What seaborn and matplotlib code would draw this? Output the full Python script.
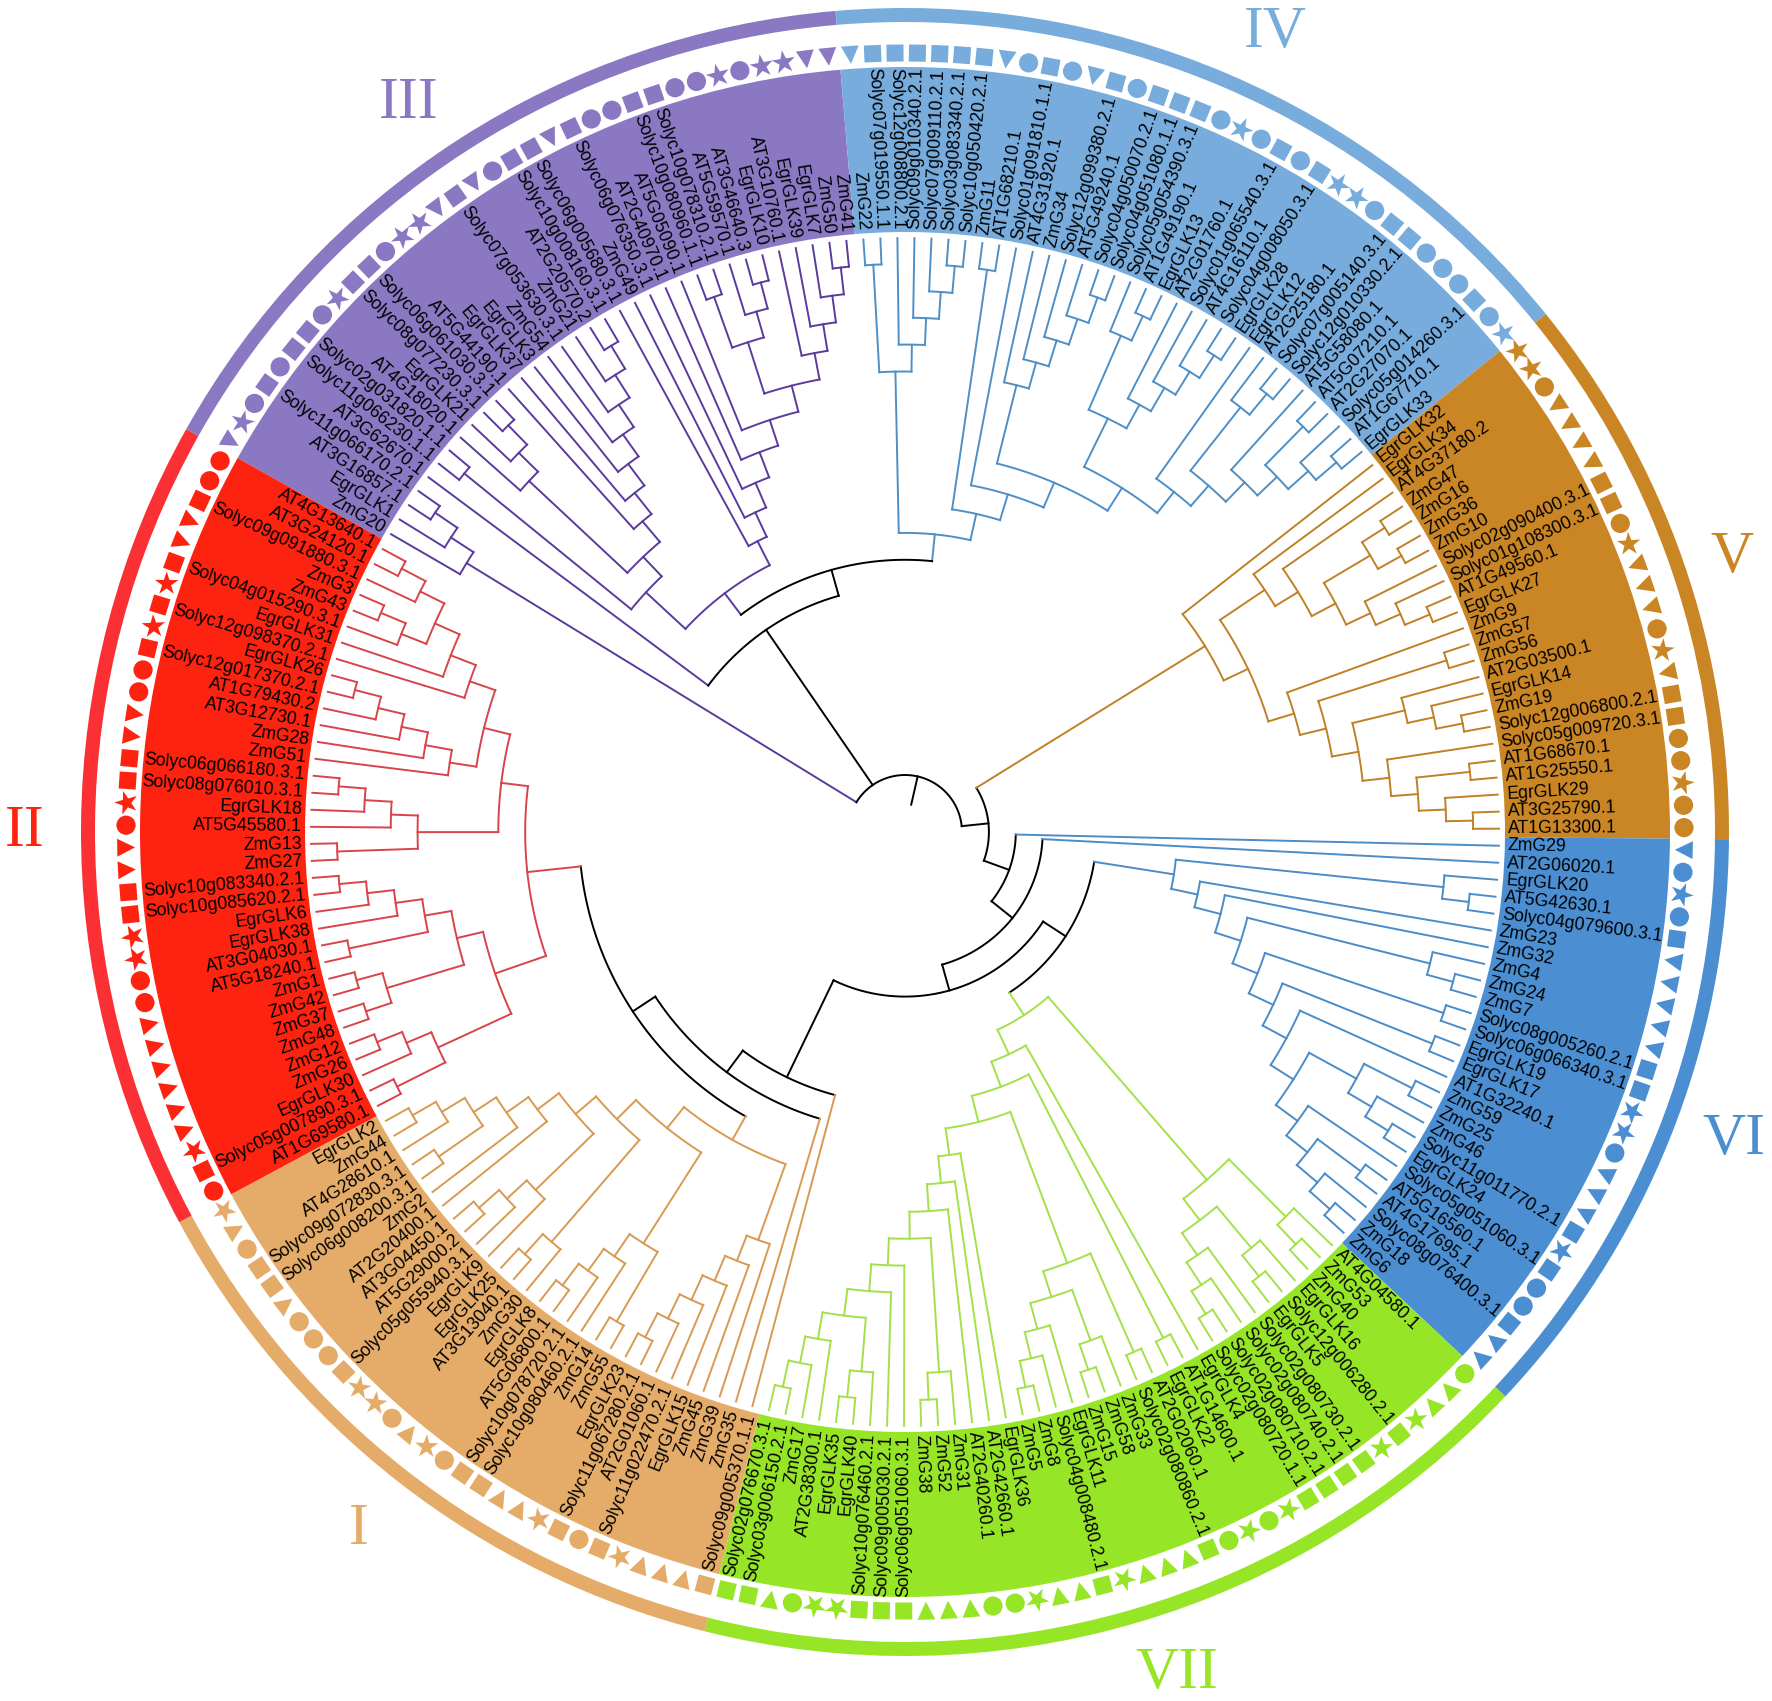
import numpy as np
import pandas as pd
import matplotlib
matplotlib.use("Agg")
import matplotlib.pyplot as plt
from matplotlib.markers import MarkerStyle
from matplotlib.transforms import Affine2D
import seaborn as sns

sns.set_theme(style="white")
plt.rcParams['font.family'] = ['Liberation Sans', 'DejaVu Sans']

# leaf names per clade, clockwise
leaves_vi = ["ZmG29", "AT2G06020.1", "EgrGLK20", "AT5G42630.1", "Solyc04g079600.3.1", "ZmG23", "ZmG32", "ZmG4", "ZmG24", "ZmG7",
             "Solyc08g005260.2.1", "Solyc06g066340.3.1", "EgrGLK19", "EgrGLK17", "AT1G32240.1", "ZmG59", "ZmG25", "ZmG46",
             "Solyc11g011770.2.1", "EgrGLK24", "Solyc05g051060.3.1", "AT5G16560.1", "AT4G17695.1", "Solyc08g076400.3.1", "ZmG18", "ZmG6"]
leaves_vii = ["AT4G04580.1", "ZmG53", "ZmG40", "EgrGLK16", "Solyc12g006280.2.1", "EgrGLK5", "Solyc02g080730.2.1", "Solyc02g080740.2.1",
              "Solyc02g080710.2.1", "Solyc02g080720.1.1", "EgrGLK4", "AT1G14600.1", "EgrGLK22", "AT2G02060.1", "Solyc02g080860.2.1",
              "ZmG33", "ZmG58", "ZmG15", "EgrGLK11", "Solyc04g008480.2.1", "ZmG8", "ZmG5", "EgrGLK36", "AT2G42660.1", "AT2G40260.1",
              "ZmG31", "ZmG52", "ZmG38", "Solyc06g051060.3.1", "Solyc09g005030.2.1", "Solyc10g076460.2.1", "EgrGLK40", "EgrGLK35",
              "AT2G38300.1", "ZmG17", "Solyc03g006150.2.1", "Solyc02g076670.3.1"]
leaves_i = ["Solyc09g005370.1.1", "ZmG35", "ZmG39", "ZmG45", "EgrGLK15", "Solyc11g022470.2.1", "AT2G01060.1", "Solyc11g067280.2.1",
            "EgrGLK23", "ZmG55", "ZmG14", "Solyc10g080460.2.1", "Solyc10g078720.2.1", "AT5G06800.1", "EgrGLK8", "ZmG30", "AT3G13040.1",
            "EgrGLK25", "EgrGLK9", "Solyc05g055940.3.1", "AT5G29000.2", "AT3G04450.1", "AT2G20400.1", "ZmG2", "Solyc06g008200.3.1",
            "Solyc09g072830.3.1", "AT4G28610.1", "ZmG44", "EgrGLK2"]
leaves_ii = ["AT1G69580.1", "Solyc05g007890.3.1", "EgrGLK30", "ZmG26", "ZmG12", "ZmG48", "ZmG37", "ZmG42", "ZmG1", "AT5G18240.1",
             "AT3G04030.1", "EgrGLK38", "EgrGLK6", "Solyc10g085620.2.1", "Solyc10g083340.2.1", "ZmG27", "ZmG13", "AT5G45580.1",
             "EgrGLK18", "Solyc08g076010.3.1", "Solyc06g066180.3.1", "ZmG51", "ZmG28", "AT3G12730.1", "AT1G79430.2",
             "Solyc12g017370.2.1", "EgrGLK26", "Solyc12g098370.2.1", "EgrGLK31", "Solyc04g015290.3.1", "ZmG43", "ZmG3",
             "Solyc09g091880.3.1", "AT3G24120.1", "AT4G13640.1"]
leaves_iii = ["ZmG20", "EgrGLK1", "AT3G16857.1", "Solyc11g066170.2.1", "AT3G62670.1", "Solyc11g066230.1.1", "Solyc02g031820.1.1",
              "AT4G18020.1", "EgrGLK21", "Solyc08g077230.3.1", "Solyc06g061030.3.1", "AT5G44190.1", "EgrGLK37", "EgrGLK3", "ZmG54",
              "Solyc07g053630.3.1", "ZmG21", "AT2G20570.2", "Solyc10g008160.3.1", "Solyc06g005680.3.1", "ZmG49", "Solyc06g076350.3.1",
              "AT2G40970.1", "AT5G05090.1", "Solyc10g080960.1.1", "Solyc10g078310.2.1", "AT5G59570.1", "AT3G46640.3", "EgrGLK10",
              "AT3G10760.1", "EgrGLK39", "EgrGLK7", "ZmG50", "ZmG41"]
leaves_iv = ["ZmG22", "Solyc07g019550.1.1", "Solyc12g008800.2.1", "Solyc09g010340.2.1", "Solyc07g009110.2.1", "Solyc03g083340.2.1",
             "Solyc10g050420.2.1", "ZmG11", "AT1G68210.1", "Solyc01g091810.1.1", "AT4G31920.1", "ZmG34", "Solyc12g099380.2.1",
             "AT5G49240.1", "Solyc04g050070.2.1", "Solyc04g051080.1.1", "Solyc05g054390.3.1", "AT1G49190.1", "EgrGLK13", "AT2G01760.1",
             "Solyc01g065540.3.1", "AT4G16110.1", "Solyc04g008050.3.1", "EgrGLK28", "EgrGLK12", "AT2G25180.1", "Solyc07g005140.3.1",
             "Solyc12g010330.2.1", "AT5G58080.1", "AT5G07210.1", "AT2G27070.1", "Solyc05g014260.3.1", "AT1G67710.1", "EgrGLK33"]
leaves_v = ["EgrGLK32", "EgrGLK34", "AT4G37180.2", "ZmG47", "ZmG16", "ZmG36", "ZmG10", "Solyc02g090400.3.1", "Solyc01g108300.3.1",
            "AT1G49560.1", "EgrGLK27", "ZmG9", "ZmG57", "ZmG56", "AT2G03500.1", "EgrGLK14", "ZmG19", "Solyc12g006800.2.1",
            "Solyc05g009720.3.1", "AT1G68670.1", "AT1G25550.1", "EgrGLK29", "AT3G25790.1", "AT1G13300.1"]

# ring symbols per clade: t triangle, o circle, s square, * star
marks_vi = "to*ostttttss**ottts*soostt"
marks_vii = "ott*s*ssss" "*o*osttt*s" "tt*ootttss" "s**otss"
marks_i = "sttt*sos*t" "tsso*to**s" "oootssot*"
marks_ii = "os*ttttttoo**sstto*ssttoos*s*sttsoo"
marks_iii = "t*ososso*s" "so**tstoss" "tsoossoo*o" "**tt"
marks_iv = "tssssss" "tosots" "osss" "o*oso" "s**" "oss" "ooo" "so*"
marks_v = "**otttt" "sso*" "ttto*tssoo*oo"

# cladogram topology, leaves numbered inside their clade
iii_base = (0, (1, (2, 3)))
iii_chain = (11, (12, (13, (14, (15, (16, (17, 18)))))))
iii_low = ((5, 6), ((7, (8, (9, 10))), iii_chain))
iii_k = (((24, 25), (26, (27, 28))), (29, (30, (31, (32, 33)))))
iii_high = (19, (20, (21, (22, (23, iii_k)))))
tree_iii_top = (iii_low, iii_high)

iv_a = ((0, 1), (2, (3, (4, (5, 6)))))
iv_b = (10, (11, (12, (13, (14, 15)))))
iv_c = ((16, (17, 18)), (19, (20, (21, (22, 23)))))
iv_d = (24, ((25, (26, 27)), (28, ((29, 30), (31, (32, 33))))))
tree_iv = (iv_a, ((7, 8), (9, (iv_b, (iv_c, iv_d)))))

v_a = (1, (2, (((3, 4), (5, 6)), (7, (8, (9, 10))))))
v_b = (11, ((12, 13), ((14, (15, (16, 17))), (18, ((19, 20), (21, (22, 23)))))))
tree_v = (0, (v_a, v_b))

vi_a = ((15, 16), (17, (18, 19)))
vi_b = (20, ((21, 22), (23, (24, 25))))
tree_vi = ((2, (3, 4)), (5, (6, ((7, (8, 9)), ((10, 11), ((12, 13), (14, (vi_a, vi_b))))))))

vii_a = ((0, (1, 2)), ((3, (4, 5)), (6, (7, (8, 9)))))
vii_b = ((13, 14), ((15, (16, 17)), (18, (19, (20, 21)))))
vii_c = ((25, (26, 27)), (28, (29, ((30, (31, 32)), (33, (34, (35, 36)))))))
tree_vii = (vii_a, (10, ((11, 12), (vii_b, (22, (23, (24, vii_c)))))))

i_j1 = (2, (3, (4, (5, (6, (7, 8))))))
i_j2 = ((9, 10), (11, (12, (13, 14))))
i_j3 = (15, (16, 17))
i_j4 = (18, (19, (20, 21)))
i_j5 = (22, (23, ((24, 25), (26, (27, 28)))))
tree_i_rest = (i_j1, (i_j2, (i_j3, (i_j4, i_j5))))

ii_low = (((0, 1), (2, (3, 4))), (((5, 6), (7, 8)), ((9, 10), (11, (12, (13, 14))))))
ii_d = ((15, 16), (17, (18, (19, 20))))
ii_e = (21, (22, (23, (24, (25, 26)))))
ii_f = (27, (28, ((29, (30, 31)), (32, (33, 34)))))
tree_ii = (ii_low, (ii_d, (ii_e, ii_f)))

# the backbone joining the clades, clockwise from the base of III
tree = (iii_base,
        (4, (tree_iii_top, tree_iv)),
        (tree_v, (0, (1, ((tree_vi, tree_vii), (0, (1, (tree_i_rest, tree_ii))))))))

clades = ["III", "IV", "V", "VI", "VII", "I", "II"]
clade_leaves = [leaves_iii, leaves_iv, leaves_v, leaves_vi, leaves_vii, leaves_i, leaves_ii]
clade_marks = [marks_iii, marks_iv, marks_v, marks_vi, marks_vii, marks_i, marks_ii]

band_colors = {"I": "#E5AC69", "II": "#FE2210", "III": "#8B78C3", "IV": "#77ACDD", "V": "#CA8525", "VI": "#4B8FD2", "VII": "#97E527"}
ring_colors = dict(band_colors, II="#FB3035")
branch_colors = {"I": "#D89A50", "II": "#D9434A", "III": "#5B3A9E", "IV": "#4E8FC6", "V": "#C08026", "VI": "#4A8CC8",
                 "VII": "#A4E04A", "backbone": "#000000"}

# radii in pixels, the axes are scaled 1:1
R_LEAF = 594
R_TOP = 595
R_STEP = 26.9
R_BAND = (600, 765)
R_MARK = 779
R_RING = (810, 824)
R_TEXT = 603
R_MAX = 830
CX, CY = 905, 832
W, H = 1772, 1701

names = [n for group in clade_leaves for n in group]
leaf_clade = [c for c, group in zip(clades, clade_leaves) for _ in group]
marks = "".join(clade_marks)
step = 360 / len(names)
first = len(leaves_vi) + len(leaves_vii) + len(leaves_i) + len(leaves_ii)
leaf_deg = -(np.arange(len(names)) + first + 0.5) * step - 0.5


def radius(h):
    return R_LEAF if h == 0 else R_TOP - R_STEP * h


segments = []
pos = 0


def add_segment(theta, r, clade):
    segments.append(pd.DataFrame({"theta": theta, "r": r, "clade": clade, "seg": len(segments)}))


def walk(node):
    global pos
    if not isinstance(node, tuple):
        pos += 1
        return leaf_deg[pos - 1], 0, leaf_clade[pos - 1]
    kids = [walk(k) for k in node]
    h = 1 + max(k[1] for k in kids)
    found = {k[2] for k in kids}
    clade = found.pop() if len(found) == 1 else "backbone"
    a0, a1 = kids[0][0], kids[-1][0]
    arc = np.radians(np.linspace(a0, a1, max(3, int(abs(a1 - a0) * 2))))
    add_segment(arc, radius(h), clade)
    for a, kh, kc in kids:
        add_segment(np.radians([a, a]), [radius(h), radius(kh)], kc)
    return (a0 + a1) / 2, h, clade


root_deg, root_h, _ = walk(tree)
add_segment(np.radians([root_deg, root_deg]), [28, radius(root_h)], "backbone")
branches = pd.concat(segments, ignore_index=True)

# ring symbols are turned with the circle
marker_map = {}
for i, (m, a) in enumerate(zip(marks, leaf_deg)):
    if m == "t":
        marker_map[i] = MarkerStyle("^", transform=Affine2D().scale(1.05).rotate_deg(a + 90))
    elif m == "s":
        marker_map[i] = MarkerStyle("s", transform=Affine2D().rotate_deg(a))
    elif m == "*":
        marker_map[i] = MarkerStyle("*", transform=Affine2D().scale(1.45).rotate_deg(a - 90))
    else:
        marker_map[i] = MarkerStyle("o", transform=Affine2D().scale(1.13))
ring = pd.DataFrame({"theta": np.radians(leaf_deg), "r": R_MARK, "clade": leaf_clade, "leaf": np.arange(len(names))})

fig = plt.figure(figsize=(W / 100, H / 100), dpi=100, facecolor="white")
ax = fig.add_axes([(CX - R_MAX) / W, (H - CY - R_MAX) / H, 2 * R_MAX / W, 2 * R_MAX / H], projection="polar")

start = 0
for c, group in zip(clades, clade_leaves):
    a0 = -(first + start) * step - 0.5
    a1 = -(first + start + len(group)) * step - 0.5
    mid, width = np.radians((a0 + a1) / 2), np.radians(a0 - a1)
    ax.bar(mid, R_BAND[1] - R_BAND[0], width=width, bottom=R_BAND[0], color=band_colors[c], linewidth=0, zorder=1)
    ax.bar(mid, R_RING[1] - R_RING[0], width=width, bottom=R_RING[0], color=ring_colors[c], linewidth=0, zorder=1)
    start += len(group)

sns.lineplot(data=branches, x="theta", y="r", hue="clade", units="seg", estimator=None, sort=False,
             palette=branch_colors, linewidth=1.4, legend=False, ax=ax, zorder=2, solid_capstyle="projecting")
sns.scatterplot(data=ring, x="theta", y="r", hue="clade", palette=band_colors, style="leaf", markers=marker_map,
                s=150, linewidth=0, legend=False, ax=ax, zorder=3)

for name, a in zip(names, leaf_deg):
    d = (a + 180) % 360 - 180
    right = -90 < d <= 90
    ax.text(np.radians(a), R_TEXT, name, rotation=d if right else d + 180, rotation_mode="anchor",
            ha="left" if right else "right", va="center", fontsize=12.7, color="#000000", zorder=4)

ax.set_xlim(0, 2 * np.pi)
ax.set_ylim(0, R_MAX)
ax.set_axis_off()

roman = {"I": (359, 1530), "II": (25, 832), "III": (409, 104), "IV": (1275, 33), "V": (1732, 558), "VI": (1734, 1140), "VII": (1177, 1674)}
for c, (x, y) in roman.items():
    fig.text(x / W, 1 - y / H, c, family="Liberation Serif", fontsize=43, color=band_colors[c], ha="center", va="center")

fig.savefig("out.png", dpi=100, facecolor="white")
